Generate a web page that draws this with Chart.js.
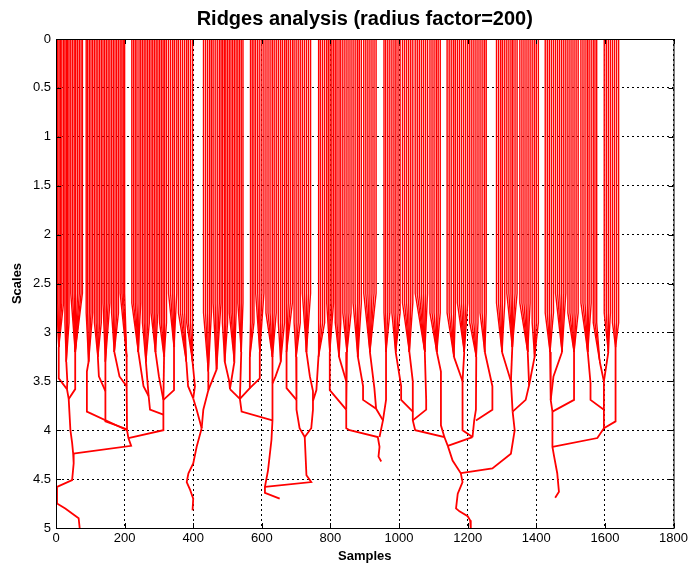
<!DOCTYPE html>
<html lang="en">
<head>
<meta charset="UTF-8">
<title>Ridges analysis</title>
<script src="https://cdn.jsdelivr.net/npm/chart.js"></script>
<style>
  html, body { margin: 0; padding: 0; background: #fff; }
  .wrap { width: 691px; height: 565px; }
</style>
</head>
<body>
<div class="wrap"><canvas id="ridges"></canvas></div>
<script>
const xTicks = [0, 200, 400, 600, 800, 1000, 1200, 1400, 1600, 1800];
const yTicks = [0, 0.5, 1, 1.5, 2, 2.5, 3, 3.5, 4, 4.5, 5];

// forks: [sample, scale where the bundle meets, scale where its ridges start to bend in]
const forkPoints = [
  [8, 3.15, 2.7], [30, 3.3, 2.9], [56, 3.2, 2.6],
  [95, 3.3, 2.8], [122, 3.25, 2.9], [144, 3.3, 2.7], [170, 3.2, 2.8], [206, 3.25, 2.6],
  [240, 3.2, 2.7], [262, 3.3, 2.9], [290, 3.2, 2.8], [315, 3.25, 2.9], [344, 3.15, 2.6],
  [380, 3.3, 2.8], [398, 3.3, 2.9], [444, 3.4, 2.8], [468, 3.38, 2.7],
  [492, 3.3, 2.9], [520, 3.3, 2.8], [540, 3.2, 2.7], [565, 3.25, 2.9], [594, 3.2, 2.6],
  [631, 3.25, 2.8], [655, 3.3, 2.9],
  [672, 3.2, 2.7], [700, 3.25, 2.9], [730, 3.2, 2.6], [765, 3.25, 2.9],
  [798, 3.2, 2.7], [825, 3.25, 2.9], [848, 3.2, 2.8], [880, 3.25, 2.7], [915, 3.2, 2.6], [962, 3.2, 2.8],
  [990, 3.2, 2.8], [1030, 3.2, 2.7], [1075, 3.2, 2.6], [1110, 3.2, 2.8],
  [1160, 3.25, 2.8], [1190, 3.2, 2.7], [1225, 3.25, 2.9], [1250, 3.2, 2.8],
  [1300, 3.2, 2.7], [1330, 3.15, 2.6], [1375, 3.2, 2.7], [1395, 3.25, 2.9],
  [1440, 3.2, 2.8], [1475, 3.2, 2.6], [1510, 3.2, 2.8], [1550, 3.2, 2.7], [1585, 3.3, 2.9],
  [1610, 3.2, 2.8], [1631, 3.15, 2.9]
];

// sample positions at scale 0 of the ridges feeding each fork
const forkTops = [
  [2, 5, 9, 13, 17, 22], [26, 30, 34, 38], [43, 48, 53, 58, 63, 68, 73, 77],
  [88, 92, 97, 102, 107], [112, 117, 122, 127, 132], [137, 142, 147, 152, 157], [162, 167, 172, 177, 182], [187, 192, 196, 200],
  [221, 226, 231, 236, 242, 247], [252, 257, 262, 267, 272], [277, 282, 287, 292, 297], [302, 307, 312, 317, 322], [328, 334, 340, 346, 352],
  [357, 363, 369, 375], [381, 386, 392, 398], [430, 436, 442, 448, 453], [458, 464, 470, 476, 481],
  [485, 490, 495, 500], [505, 510, 515, 520, 525], [530, 535, 540, 545], [567, 572, 577], [582, 588, 594, 600, 606],
  [612, 618, 624, 630, 636, 642], [648, 654, 660, 666],
  [671, 677, 683, 689], [694, 700, 706, 712], [718, 724, 730, 736, 742], [766, 771, 777, 783],
  [789, 794, 799, 804, 809], [814, 819, 825, 830], [836, 842, 848, 854, 860], [866, 872, 878, 884, 890], [897, 903, 909, 915, 921, 927, 933], [956, 961, 967, 973],
  [979, 985, 991, 997, 1003], [1010, 1016, 1022, 1028, 1034, 1040], [1047, 1053, 1059, 1065, 1071, 1077, 1083], [1090, 1096, 1102, 1108, 1114, 1120],
  [1140, 1146, 1152, 1158, 1164], [1170, 1176, 1182, 1188, 1194, 1200], [1206, 1212, 1218, 1224, 1230], [1236, 1242, 1248, 1254],
  [1284, 1290, 1296, 1302, 1308], [1314, 1320, 1326, 1332, 1338, 1344], [1352, 1358, 1364, 1370, 1376, 1382], [1388, 1394, 1400, 1406],
  [1426, 1432, 1438, 1444, 1450], [1456, 1462, 1468, 1474, 1480, 1486], [1492, 1498, 1504, 1510, 1516, 1522], [1530, 1536, 1542, 1548, 1554, 1560], [1566, 1571, 1576],
  [1598, 1604, 1610, 1616], [1622, 1628, 1634, 1640]
];

// coarse-scale ridge paths below the forks, each a list of (sample, scale)
const branches = [
  [[8, 3.15], [8, 3.47], [32, 3.58], [37, 3.68]],
  [[30, 3.3], [33, 3.5], [32, 3.58]],
  [[56, 3.2], [56, 3.58], [37, 3.68]],
  [[37, 3.68], [42, 4.0], [47, 4.13], [50, 4.24], [51.5, 4.34], [47, 4.51], [3, 4.58], [3, 4.75], [27, 4.8], [66, 4.9], [69, 5.0]],
  [[95, 3.3], [90, 3.4], [90, 3.81], [207, 4.0]],
  [[122, 3.25], [125, 3.45], [144, 3.6]],
  [[144, 3.3], [144, 3.91], [207, 3.99]],
  [[170, 3.2], [185, 3.45], [206, 3.55]],
  [[206, 3.25], [206, 3.55], [207, 4.0], [211, 4.08], [219, 4.16], [50, 4.24]],
  [[240, 3.2], [255, 3.55], [270, 3.65]],
  [[262, 3.3], [270, 3.65]],
  [[270, 3.65], [274, 3.79], [313, 3.84]],
  [[290, 3.2], [300, 3.45], [313, 3.69]],
  [[315, 3.25], [313, 3.69]],
  [[344, 3.15], [344, 3.59], [313, 3.69]],
  [[313, 3.69], [313, 4.0], [211, 4.08]],
  [[380, 3.3], [385, 3.55], [400, 3.675]],
  [[398, 3.3], [405, 3.55], [400, 3.675]],
  [[400, 3.675], [410, 3.79], [424.6, 3.98]],
  [[468, 3.38], [444, 3.59]],
  [[444, 3.4], [444, 3.59], [429.4, 3.79], [424.6, 3.98]],
  [[424.6, 3.98], [410, 4.17], [400, 4.34], [386, 4.44], [381, 4.53], [391, 4.61], [400, 4.7], [398, 4.82]],
  [[492, 3.3], [505, 3.5], [507, 3.58]],
  [[520, 3.3], [507, 3.58]],
  [[507, 3.58], [536, 3.68]],
  [[540, 3.2], [536, 3.68]],
  [[565, 3.25], [565, 3.57], [536, 3.68]],
  [[594, 3.2], [594, 3.47], [565, 3.57]],
  [[536, 3.68], [541, 3.81], [631, 3.9]],
  [[655, 3.3], [640, 3.45], [631, 3.52]],
  [[631, 3.25], [631, 3.9], [628, 4.1], [618, 4.41], [609, 4.58], [609, 4.64], [652, 4.7]],
  [[672, 3.2], [672, 3.57], [701, 3.69]],
  [[700, 3.25], [701, 3.69]],
  [[701, 3.69], [701, 3.79], [710, 3.98], [725, 4.07]],
  [[730, 3.2], [740, 3.45], [749, 3.6], [749, 3.79], [744, 3.98], [725, 4.07]],
  [[765, 3.25], [759, 3.59], [749, 3.7]],
  [[725, 4.07], [730, 4.46], [744, 4.53], [609, 4.58]],
  [[798, 3.2], [798, 3.59], [846, 3.79]],
  [[825, 3.25], [846, 3.5]],
  [[848, 3.2], [846, 3.5], [846, 3.79]],
  [[846, 3.79], [846, 3.98], [856, 4.0], [938, 4.07], [943, 4.17], [940, 4.27], [948, 4.32]],
  [[880, 3.25], [895, 3.55], [895, 3.69], [933, 3.78], [953, 3.9], [943, 4.07]],
  [[915, 3.2], [928, 3.57], [933, 3.78]],
  [[962, 3.2], [962, 3.69], [953, 3.9]],
  [[990, 3.2], [1006, 3.55], [1006, 3.69], [1040, 3.81], [1040, 3.9], [1047, 4.0], [1132, 4.07], [1142, 4.16]],
  [[1030, 3.2], [1040, 3.5], [1040, 3.81]],
  [[1075, 3.2], [1079, 3.69], [1079, 3.79], [1040, 3.9]],
  [[1110, 3.2], [1122, 3.4], [1122, 3.95], [1132, 4.07]],
  [[1142, 4.16], [1156, 4.31], [1180, 4.44], [1185, 4.53], [1171, 4.65], [1166, 4.8], [1176, 4.83], [1200, 4.88], [1207, 4.92], [1209, 5.0]],
  [[1142, 4.16], [1214, 4.07]],
  [[1160, 3.25], [1185, 3.5]],
  [[1190, 3.2], [1185, 3.5], [1185, 4.0], [1214, 4.07]],
  [[1225, 3.25], [1224, 3.79], [1219, 3.9], [1214, 4.07]],
  [[1250, 3.2], [1272, 3.55], [1272, 3.79], [1224, 3.9]],
  [[1300, 3.2], [1326, 3.5], [1331, 3.81]],
  [[1330, 3.15], [1326, 3.5]],
  [[1375, 3.2], [1379, 3.54], [1369, 3.69], [1331, 3.81]],
  [[1395, 3.25], [1379, 3.54]],
  [[1331, 3.81], [1337, 4.0], [1326, 4.24], [1272, 4.39], [1180, 4.44]],
  [[1440, 3.2], [1442, 3.69], [1447, 3.81]],
  [[1475, 3.2], [1450, 3.45], [1442, 3.69]],
  [[1510, 3.2], [1510, 3.69], [1447, 3.81]],
  [[1550, 3.2], [1558, 3.52], [1558, 3.69], [1597, 3.79]],
  [[1585, 3.3], [1597, 3.5], [1597, 3.79]],
  [[1610, 3.2], [1597, 3.5]],
  [[1631, 3.15], [1631, 3.91], [1597, 3.98]],
  [[1597, 3.79], [1597, 3.98], [1578, 4.08], [1447, 4.17]],
  [[1447, 3.81], [1447, 4.17], [1452, 4.27], [1461, 4.44], [1466, 4.63], [1455, 4.69]]
];

function ridge(points, width) {
  return {
    data: points.map(p => ({ x: p[0], y: p[1] })),
    showLine: true,
    borderColor: '#ff0000',
    borderWidth: width,
    pointRadius: 0,
    fill: false
  };
}

const datasets = [];
forkPoints.forEach((f, i) => {
  const [fx, fy, bend] = f;
  forkTops[i].forEach(t => datasets.push(ridge([[t, 0], [t, bend], [fx, fy]], 1.4)));
});
branches.forEach(b => datasets.push(ridge(b, 1.8)));

// matlab style box with inward ticks on all four sides
const axesBox = {
  id: 'axesBox',
  afterDraw(chart) {
    const ctx = chart.ctx;
    const a = chart.chartArea;
    const sx = chart.scales.x, sy = chart.scales.y;
    ctx.save();
    ctx.strokeStyle = '#000';
    ctx.lineWidth = 1;
    ctx.strokeRect(a.left + 0.5, a.top + 0.5, a.right - a.left, a.bottom - a.top);
    ctx.beginPath();
    xTicks.forEach(v => {
      const px = Math.round(sx.getPixelForValue(v)) + 0.5;
      ctx.moveTo(px, a.bottom); ctx.lineTo(px, a.bottom - 5);
      ctx.moveTo(px, a.top); ctx.lineTo(px, a.top + 5);
    });
    yTicks.forEach(v => {
      const py = Math.round(sy.getPixelForValue(v)) + 0.5;
      ctx.moveTo(a.left, py); ctx.lineTo(a.left + 5, py);
      ctx.moveTo(a.right, py); ctx.lineTo(a.right - 5, py);
    });
    ctx.stroke();
    ctx.restore();
  }
};

const fontFamily = '"Liberation Sans", Arial, Helvetica, sans-serif';

new Chart(document.getElementById('ridges'), {
  type: 'scatter',
  data: { datasets: datasets },
  options: {
    responsive: true,
    maintainAspectRatio: false,
    animation: false,
    layout: { padding: { left: 0, right: 16, top: 0, bottom: 0 } },
    plugins: {
      legend: { display: false },
      tooltip: { enabled: false },
      title: {
        display: true,
        text: 'Ridges analysis (radius factor=200)',
        fullSize: false,
        color: '#000',
        font: { family: fontFamily, size: 20, weight: 'bold' },
        padding: { top: 7, bottom: 8 }
      }
    },
    scales: {
      x: {
        type: 'linear',
        min: 0,
        max: 1800,
        z: 1,
        afterBuildTicks: s => { s.ticks = xTicks.map(v => ({ value: v })); },
        afterFit: s => { s.height = 37; },
        ticks: {
          autoSkip: false, maxRotation: 0, padding: 3, color: '#000',
          font: { family: fontFamily, size: 13 },
          callback: v => String(v)
        },
        grid: { color: '#000', lineWidth: 1, drawTicks: false },
        border: { display: true, color: '#000', dash: [2, 3] },
        title: {
          display: true,
          text: 'Samples',
          color: '#000',
          font: { family: fontFamily, size: 13, weight: 'bold' },
          padding: { top: 0, bottom: 1 }
        }
      },
      y: {
        type: 'linear',
        reverse: true,
        min: 0,
        max: 5,
        z: 1,
        afterBuildTicks: s => { s.ticks = yTicks.map(v => ({ value: v })); },
        afterFit: s => { s.width = 56; },
        ticks: {
          autoSkip: false, padding: 5, color: '#000',
          font: { family: fontFamily, size: 13 },
          callback: v => String(v)
        },
        grid: { color: '#000', lineWidth: 1, drawTicks: false },
        border: { display: true, color: '#000', dash: [2, 3] },
        title: {
          display: true,
          text: 'Scales',
          color: '#000',
          font: { family: fontFamily, size: 13, weight: 'bold' },
          padding: { top: 10, bottom: 0 }
        }
      }
    }
  },
  plugins: [axesBox]
});
</script>
</body>
</html>
